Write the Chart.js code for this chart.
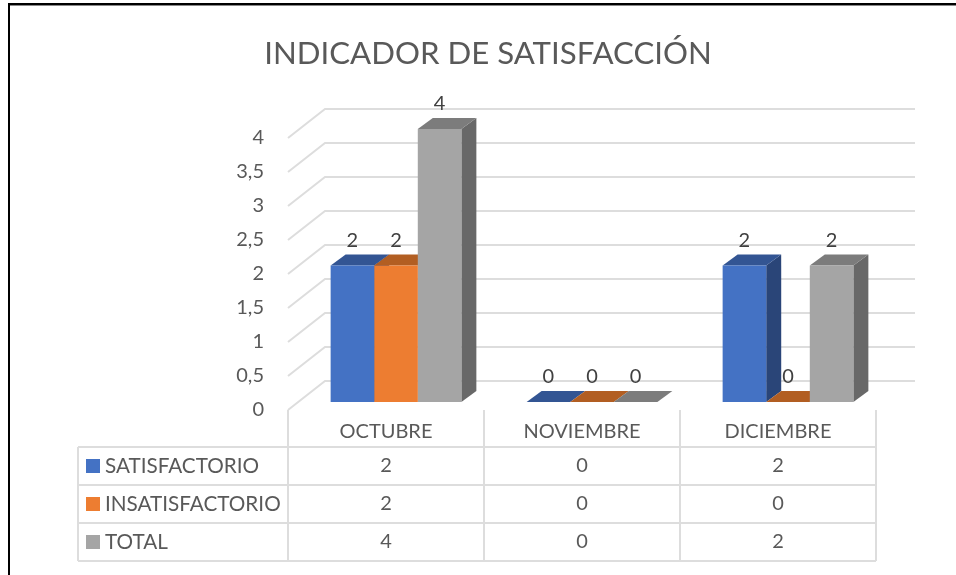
<!DOCTYPE html>
<html>
<head>
<meta charset="utf-8">
<title>Indicador de satisfacción</title>
<script src="https://cdn.jsdelivr.net/npm/chart.js@4"></script>
<style>
    html, body { margin: 0; padding: 0; background: #fff; overflow: hidden; }
    #taskChart { position: absolute; left: 0; top: 0; }
    #frame {
        position: absolute; left: 8px; top: 3px; width: 948px; height: 572px;
        border-top: 2px solid #000; border-left: 2px solid #000;
        box-shadow: inset 0 1px 0 #888; box-sizing: border-box;
    }
</style>
</head>
<body>
<canvas id="taskChart" width="956" height="575"></canvas>
<div id="frame"></div>
<script>
// Chart data
const meses = ['OCTUBRE', 'NOVIEMBRE', 'DICIEMBRE'];
const satisfactorio = [2, 0, 2];
const insatisfactorio = [2, 0, 0];
const total = [4, 0, 2];
const nombres = ['SATISFACTORIO', 'INSATISFACTORIO', 'TOTAL'];

// Colours for each series: front, top face, side face
const frentes = ['#4472C4', '#ED7D31', '#A5A5A5'];
const tapas = ['#335593', '#B25E22', '#7C7C7C'];
const lados = ['#2A4578', '#934E1C', '#686868'];

const textColor = '#595959';
const lineColor = '#DDDDDD';
const fontName = 'Lato, "Open Sans", sans-serif';

// 3D look: how far the bars and the back wall go into the page
const barDepth = { x: 15, y: -11 };
const wallDepth = { x: 37, y: -29 };
const wallRight = 915;

// Table below the plot
const tableLeft = 78;
const tableShift = 10; // bars sit 10px right of their table column
const rowTops = [447, 485, 523, 561];

// Back wall and floor lines, drawn from the tick scale
const wallPlugin = {
    id: 'wall',
    beforeDatasetsDraw(chart) {
        const c = chart.ctx;
        const y = chart.scales.y;
        const left = chart.chartArea.left - tableShift;
        c.save();
        c.strokeStyle = lineColor;
        c.lineWidth = 2;
        y.ticks.forEach(function (t) {
            const py = y.getPixelForValue(t.value);
            c.beginPath();
            c.moveTo(left, py);
            c.lineTo(left + wallDepth.x, py + wallDepth.y);
            c.lineTo(wallRight, py + wallDepth.y);
            c.stroke();
        });
        c.restore();
    }
};

// Top and side faces of each bar
const facesPlugin = {
    id: 'faces',
    beforeDatasetsDraw(chart) {
        const c = chart.ctx;
        chart.data.datasets.forEach(function (ds, i) {
            chart.getDatasetMeta(i).data.forEach(function (bar) {
                const p = bar.getProps(['x', 'y', 'base', 'width'], true);
                const l = p.x - p.width / 2;
                const r = p.x + p.width / 2;
                c.fillStyle = lados[i];
                c.beginPath();
                c.moveTo(r, p.y);
                c.lineTo(r + barDepth.x, p.y + barDepth.y);
                c.lineTo(r + barDepth.x, p.base + barDepth.y);
                c.lineTo(r, p.base);
                c.closePath();
                c.fill();
                c.fillStyle = tapas[i];
                c.beginPath();
                c.moveTo(l, p.y);
                c.lineTo(l + barDepth.x, p.y + barDepth.y);
                c.lineTo(r + barDepth.x, p.y + barDepth.y);
                c.lineTo(r, p.y);
                c.closePath();
                c.fill();
            });
        });
    }
};

// Value above each bar
const labelsPlugin = {
    id: 'valueLabels',
    afterDatasetsDraw(chart) {
        const c = chart.ctx;
        c.save();
        c.font = '20px ' + fontName;
        c.fillStyle = '#404040';
        c.textAlign = 'center';
        c.textBaseline = 'middle';
        chart.data.datasets.forEach(function (ds, i) {
            chart.getDatasetMeta(i).data.forEach(function (bar, j) {
                c.fillText(String(ds.data[j]), bar.x, bar.y - 25);
            });
        });
        c.restore();
    }
};

// Data table with the legend keys
const tablePlugin = {
    id: 'dataTable',
    afterDraw(chart) {
        const c = chart.ctx;
        const x = chart.scales.x;
        const step = x.width / meses.length;
        const tableX = chart.chartArea.left - tableShift;
        const top = chart.chartArea.bottom;
        const bottom = rowTops[rowTops.length - 1];
        const series = [satisfactorio, insatisfactorio, total];

        c.save();
        c.strokeStyle = lineColor;
        c.lineWidth = 2;
        for (let i = 0; i <= meses.length; i++) {
            c.beginPath();
            c.moveTo(tableX + step * i, top);
            c.lineTo(tableX + step * i, bottom);
            c.stroke();
        }
        c.beginPath();
        c.moveTo(tableLeft, rowTops[0]);
        c.lineTo(tableLeft, bottom);
        c.stroke();
        rowTops.forEach(function (py) {
            c.beginPath();
            c.moveTo(tableLeft, py);
            c.lineTo(tableX + step * meses.length, py);
            c.stroke();
        });

        c.textBaseline = 'middle';
        series.forEach(function (values, i) {
            const mid = (rowTops[i] + rowTops[i + 1]) / 2;
            c.fillStyle = frentes[i];
            c.fillRect(86, mid - 7, 14, 14);
            c.fillStyle = textColor;
            c.textAlign = 'left';
            c.font = '20.7px ' + fontName;
            c.fillText(nombres[i], 105, mid);
            c.textAlign = 'center';
            c.font = '20px ' + fontName;
            values.forEach(function (v, j) {
                c.fillText(String(v), x.getPixelForValue(j) - tableShift, mid);
            });
        });
        c.restore();
    }
};

const ctx = document.getElementById('taskChart').getContext('2d');
const chart = new Chart(ctx, {
    type: 'bar',
    data: {
        labels: meses,
        datasets: [
            { label: nombres[0], data: satisfactorio, backgroundColor: frentes[0], yAxisID: 'yBar' },
            { label: nombres[1], data: insatisfactorio, backgroundColor: frentes[1], yAxisID: 'yBar' },
            { label: nombres[2], data: total, backgroundColor: frentes[2], yAxisID: 'yBar' }
        ]
    },
    options: {
        responsive: false,
        animation: false,
        layout: { padding: { left: 20, right: 0, top: 0, bottom: 0 } },
        categoryPercentage: 0.667,
        barPercentage: 1,
        clip: false,
        plugins: {
            legend: { display: false },
            tooltip: { enabled: false },
            title: {
                display: true,
                text: 'INDICADOR DE SATISFACCIÓN',
                color: textColor,
                font: { family: fontName, size: 31.2, weight: 'normal' },
                padding: { top: 35, bottom: 56.6 }
            }
        },
        scales: {
            x: {
                grid: { display: false },
                border: { display: false },
                ticks: {
                    labelOffset: -tableShift,
                    maxRotation: 0,
                    padding: 2,
                    color: textColor,
                    font: { family: fontName, size: 20 }
                },
                afterFit: function (s) { s.height = 165; }
            },
            // tick labels and wall lines: sits 8px lower than the bars
            y: {
                position: 'left',
                min: 0,
                max: 4.132,
                grid: { display: false },
                border: { display: false },
                ticks: {
                    stepSize: 0.5,
                    includeBounds: false,
                    padding: 26,
                    color: textColor,
                    font: { family: fontName, size: 20 },
                    callback: function (v) { return String(v).replace('.', ','); }
                },
                afterFit: function (s) { s.width = 278; }
            },
            // scale the bars are drawn on
            yBar: {
                position: 'right',
                min: -0.1176,
                max: 4,
                grid: { display: false },
                border: { display: false },
                ticks: { display: false },
                afterFit: function (s) { s.width = 70; }
            }
        }
    },
    plugins: [wallPlugin, facesPlugin, labelsPlugin, tablePlugin]
});
</script>
</body>
</html>
